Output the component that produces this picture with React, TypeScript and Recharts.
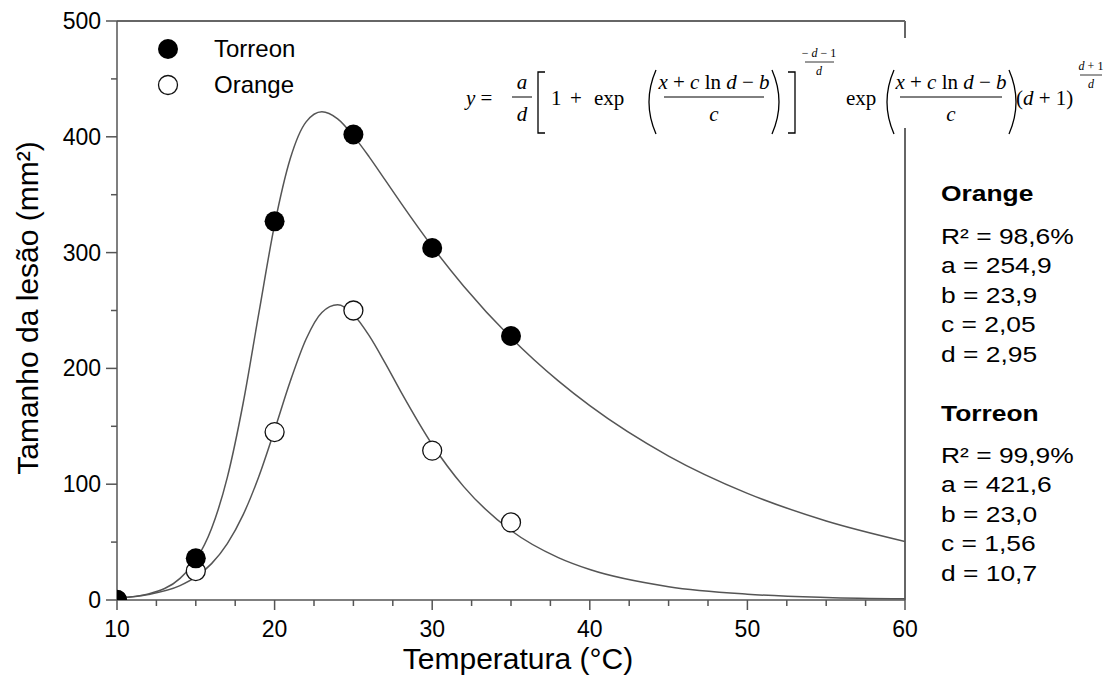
import { ComposedChart, Line, Scatter, XAxis, YAxis, ReferenceLine } from "recharts";

// observed lesion sizes
const obsTemps = [10, 15, 20, 25, 30, 35];
const torreonObs = [0, 36, 327, 402, 304, 228];
const orangeObs = [0, 25, 145, 250, 129, 67];

// fitted curves
const curveTemps = [10, 12, 14, 15, 16, 17, 18, 19, 20, 21, 22, 23, 24, 25, 26, 27, 28, 30, 32, 35, 38, 40, 45, 50, 55, 60];
const torreonCurve = [1.5, 5.3, 18.7, 34.4, 61.7, 105.9, 169.7, 247.7, 324.1, 381.4, 412.9, 421.6, 415.5, 400.8, 382.7, 363.0, 343.1, 305.2, 271.0, 226.5, 189.2, 167.8, 124.3, 92.1, 68.3, 50.6];
const orangeCurve = [1.8, 4.8, 12.4, 19.9, 31.4, 48.7, 73.5, 106.7, 146.9, 189.1, 225.4, 248.3, 254.9, 246.6, 228.3, 205.0, 180.2, 134.3, 97.9, 60.0, 36.6, 26.3, 11.5, 5.0, 2.2, 1.0];

const xTicks = [10, 12.5, 15, 17.5, 20, 22.5, 25, 27.5, 30, 32.5, 35, 37.5, 40, 42.5, 45, 47.5, 50, 52.5, 55, 57.5, 60];
const yTicks = [0, 50, 100, 150, 200, 250, 300, 350, 400, 450, 500];

const orangeStats = ["R² = 98,6%", "a = 254,9", "b = 23,9", "c = 2,05", "d = 2,95"];
const torreonStats = ["R² = 99,9%", "a = 421,6", "b = 23,0", "c = 1,56", "d = 10,7"];

const torreonPts = obsTemps.map((t, i) => ({ t, v: torreonObs[i] }));
const orangePts = obsTemps.map((t, i) => ({ t, v: orangeObs[i] }));
const torreonLine = curveTemps.map((t, i) => ({ t, v: torreonCurve[i] }));
const orangeLine = curveTemps.map((t, i) => ({ t, v: orangeCurve[i] }));

const axisColor = "#555";
const font = "'Liberation Sans', Arial, sans-serif";
const serif = "'Liberation Serif', 'Times New Roman', serif";

const XTick = (props: any) => {
  const { x, y, payload } = props;
  const major = payload.value % 10 === 0;
  return (
    <g>
      <line x1={x} y1={y} x2={x} y2={y + (major ? 10 : 6)} stroke={axisColor} strokeWidth={1.5} />
      {major && (
        <text x={x} y={y + 37} textAnchor="middle" fontSize={23} fill="#000" fontFamily={font}>
          {payload.value}
        </text>
      )}
    </g>
  );
};

const YTick = (props: any) => {
  const { x, y, payload } = props;
  const major = payload.value % 100 === 0;
  return (
    <g>
      <line x1={x - (major ? 11 : 6)} y1={y} x2={x} y2={y} stroke={axisColor} strokeWidth={1.5} />
      {major && (
        <text x={x - 16} y={y + 8} textAnchor="end" fontSize={23} fill="#000" fontFamily={font}>
          {payload.value}
        </text>
      )}
    </g>
  );
};

const FilledDot = (props: any) => <circle cx={props.cx} cy={props.cy} r={10} fill="#000" />;
const OpenDot = (props: any) => (
  <circle cx={props.cx} cy={props.cy} r={9.5} fill="#fff" stroke="#111" strokeWidth={1.3} />
);

function Frac({ cx, x0, x1, top, bottom }: { cx: number; x0: number; x1: number; top: any; bottom: any }) {
  return (
    <g>
      <text x={cx} y={89} textAnchor="middle">{top}</text>
      <line x1={x0} y1={97} x2={x1} y2={97} stroke="#000" strokeWidth={1} />
      <text x={cx} y={121} textAnchor="middle">{bottom}</text>
    </g>
  );
}

function Equation() {
  const it = { fontStyle: "italic" as const };
  const num = (
    <>
      <tspan {...it}>x</tspan> + <tspan {...it}>c</tspan> ln <tspan {...it}>d</tspan> − <tspan {...it}>b</tspan>
    </>
  );
  const c = <tspan {...it}>c</tspan>;
  return (
    <g fontFamily={serif} fontSize={21} fill="#000">
      <rect x={455} y={38} width={652} height={90} fill="#fff" />
      <text x={466} y={105}><tspan {...it}>y</tspan> =</text>
      <Frac cx={522} x0={512} x1={532} top={<tspan {...it}>a</tspan>} bottom={<tspan {...it}>d</tspan>} />
      <path d="M545,72 H538 V133 H545" fill="none" stroke="#000" strokeWidth={1.3} />
      <text x={551} y={105}>1</text>
      <text x={570} y={105}>+</text>
      <text x={594} y={105}>exp</text>
      <path d="M656,70 Q642,102 656,134" fill="none" stroke="#000" strokeWidth={1.3} />
      <Frac cx={714} x0={664} x1={764} top={num} bottom={c} />
      <path d="M772,70 Q786,102 772,134" fill="none" stroke="#000" strokeWidth={1.3} />
      <path d="M788,72 H795 V133 H788" fill="none" stroke="#000" strokeWidth={1.3} />
      <g fontSize={12}>
        <text x={819} y={57} textAnchor="middle">− <tspan {...it}>d</tspan> − 1</text>
        <line x1={805} y1={62} x2={834} y2={62} stroke="#000" strokeWidth={0.8} />
        <text x={819} y={75} textAnchor="middle" {...it}>d</text>
      </g>
      <text x={846} y={105}>exp</text>
      <path d="M894,70 Q880,102 894,134" fill="none" stroke="#000" strokeWidth={1.3} />
      <Frac cx={951} x0={900} x1={1002} top={num} bottom={c} />
      <path d="M1009,70 Q1023,102 1009,134" fill="none" stroke="#000" strokeWidth={1.3} />
      <text x={1016} y={105}>(<tspan {...it}>d</tspan> + 1)</text>
      <g fontSize={12}>
        <text x={1091} y={70} textAnchor="middle"><tspan {...it}>d</tspan> + 1</text>
        <line x1={1080} y1={75} x2={1102} y2={75} stroke="#000" strokeWidth={0.8} />
        <text x={1091} y={88} textAnchor="middle" {...it}>d</text>
      </g>
    </g>
  );
}

export default function App() {
  return (
    <div style={{ position: "absolute", left: 0, top: 0, width: 1109, height: 680, background: "#fff" }}>
      <ComposedChart width={1109} height={680} margin={{ top: 21, right: 204, bottom: 0, left: 0 }}>
        <XAxis
          dataKey="t"
          type="number"
          domain={[10, 60]}
          ticks={xTicks}
          interval={0}
          height={80}
          tickSize={0}
          tickMargin={0}
          tickLine={false}
          tick={<XTick />}
          axisLine={{ stroke: axisColor, strokeWidth: 1.5 }}
          allowDataOverflow
        />
        <YAxis
          dataKey="v"
          type="number"
          domain={[0, 500]}
          ticks={yTicks}
          interval={0}
          width={117}
          tickSize={0}
          tickMargin={0}
          tickLine={false}
          tick={<YTick />}
          axisLine={{ stroke: axisColor, strokeWidth: 1.5 }}
          allowDataOverflow
        />
        <ReferenceLine y={500} stroke="#666" strokeWidth={2} />
        <ReferenceLine x={60} stroke="#666" strokeWidth={2} />
        <Line data={torreonLine} dataKey="v" type="monotone" stroke="#555" strokeWidth={1.5} dot={false} isAnimationActive={false} />
        <Line data={orangeLine} dataKey="v" type="monotone" stroke="#555" strokeWidth={1.5} dot={false} isAnimationActive={false} />
        <Scatter data={orangePts} dataKey="v" shape={<OpenDot />} isAnimationActive={false} />
        <Scatter data={torreonPts} dataKey="v" shape={<FilledDot />} isAnimationActive={false} />
      </ComposedChart>
      <svg width={1109} height={680} style={{ position: "absolute", left: 0, top: 0, pointerEvents: "none" }}>
        <Equation />
        <g fontFamily={font} fill="#000">
          <circle cx={168} cy={49} r={10} fill="#000" />
          <text x={214} y={57} fontSize={24}>Torreon</text>
          <circle cx={168} cy={85} r={9.5} fill="#fff" stroke="#111" strokeWidth={1.3} />
          <text x={214} y={93} fontSize={24}>Orange</text>

          <g transform="translate(941,0) scale(1.2,1)" fontSize={22}>
            <text x={0} y={201} fontWeight="bold">Orange</text>
            {orangeStats.map((s, i) => (
              <text key={s} x={0} y={244 + i * 29.5}>{s}</text>
            ))}
            <text x={0} y={421} fontWeight="bold">Torreon</text>
            {torreonStats.map((s, i) => (
              <text key={s} x={0} y={463 + i * 29.5}>{s}</text>
            ))}
          </g>

          <text x={518} y={669} textAnchor="middle" fontSize={30}>Temperatura (°C)</text>
          <text x={0} y={0} transform="translate(38,308) rotate(-90)" textAnchor="middle" fontSize={30}>
            Tamanho da lesão (mm²)
          </text>
        </g>
      </svg>
    </div>
  );
}
